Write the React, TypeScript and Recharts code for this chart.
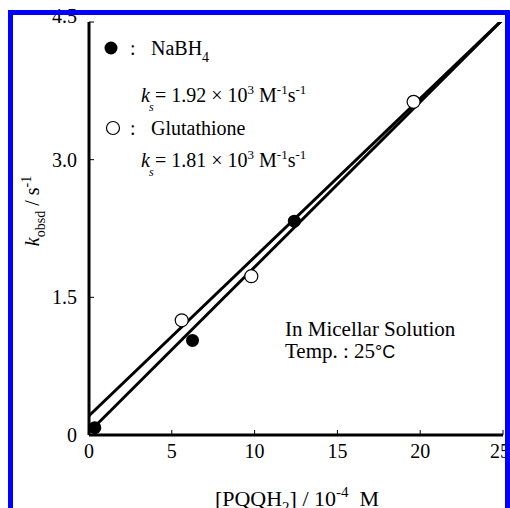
import { ComposedChart, Scatter, XAxis, YAxis } from "recharts";

// [PQQH2] / 10^-4 M  vs  k_obsd / s^-1
const nabh4Points = [
  { x: 0.35, y: 0.08 },
  { x: 6.25, y: 1.03 },
  { x: 12.4, y: 2.33 },
];

const glutathionePoints = [
  { x: 5.6, y: 1.25 },
  { x: 9.8, y: 1.73 },
  { x: 19.6, y: 3.63 },
];

// fitted lines at both ends
const nabh4Fit = [
  { x: 0, y: 0.03 },
  { x: 25, y: 4.53 },
];

const glutathioneFit = [
  { x: 0, y: 0.21 },
  { x: 25, y: 4.53 },
];

const xTicks = [0, 5, 10, 15, 20, 25];
const yTicks = [0, 1.5, 3.0, 4.5];
const yTickLabels = ["0", "1.5", "3.0", "4.5"];

const serif = "'Liberation Serif', 'Times New Roman', serif";
const tickStyle = { fontFamily: serif, fontSize: 20, fill: "#000" };
const axisStroke = { stroke: "#000", strokeWidth: 3 };
const tickStroke = { stroke: "#000", strokeWidth: 1 };

const FilledDot = (props: any) => (
  <circle cx={props.cx} cy={props.cy} r={6.5} fill="#000" />
);

const OpenDot = (props: any) => (
  <circle cx={props.cx} cy={props.cy} r={6.5} fill="#fff" stroke="#000" strokeWidth={1.2} />
);

const NoDot = () => <g />;

// the top label sits a bit higher in the original, right under the frame
const YTick = (props: any) => {
  const { x, y, payload } = props;
  const i = yTicks.indexOf(payload.value);
  const isTop = i === yTicks.length - 1;
  return (
    <text x={x} y={y} dy={isTop ? 1 : 7} textAnchor="end" fontFamily={serif} fontSize={20} fill="#000">
      {yTickLabels[i] ?? String(payload.value)}
    </text>
  );
};

const Annotations = () => (
  <svg
    width={510}
    height={508}
    style={{ position: "absolute", left: 0, top: 0, pointerEvents: "none" }}
    fontFamily={serif}
    fontSize={20}
    fill="#000"
  >
    {/* legend */}
    <circle cx={111} cy={48} r={6.5} fill="#000" />
    <text x={130} y={55}>:</text>
    <text x={151} y={55}>
      NaBH<tspan fontSize={14} dy={7}>4</tspan>
    </text>
    <text x={141} y={102} fontStyle="italic">k</text>
    <text x={149} y={111} fontStyle="italic" fontSize={12}>s</text>
    <text x={155} y={102}>
      = 1.92 × 10<tspan fontSize={13} dy={-8}>3</tspan>
      <tspan dy={8}> M</tspan>
      <tspan fontSize={13} dy={-8}>-1</tspan>
      <tspan dy={8}>s</tspan>
      <tspan fontSize={13} dy={-8}>-1</tspan>
    </text>

    <circle cx={113} cy={128} r={6.5} fill="#fff" stroke="#000" strokeWidth={1.2} />
    <text x={130} y={135}>:</text>
    <text x={151} y={135}>Glutathione</text>
    <text x={141} y={167} fontStyle="italic">k</text>
    <text x={149} y={176} fontStyle="italic" fontSize={12}>s</text>
    <text x={155} y={167}>
      = 1.81 × 10<tspan fontSize={13} dy={-8}>3</tspan>
      <tspan dy={8}> M</tspan>
      <tspan fontSize={13} dy={-8}>-1</tspan>
      <tspan dy={8}>s</tspan>
      <tspan fontSize={13} dy={-8}>-1</tspan>
    </text>

    <text x={285} y={336} fontSize={21}>In Micellar Solution</text>
    <text x={285} y={358} fontSize={21}>
      Temp. : 25
      <tspan fontFamily="'Liberation Sans', Arial, sans-serif" fontSize={18}>°C</tspan>
    </text>

    {/* axis titles */}
    <text x={297} y={506} textAnchor="middle" fontSize={22}>
      [PQQH<tspan fontSize={15} dy={6}>2</tspan>
      <tspan dy={-6}>] / 10</tspan>
      <tspan fontSize={15} dy={-9}>-4</tspan>
      <tspan dy={9}>{"\u00a0\u00a0"}M</tspan>
    </text>
    <text x={39} y={211} textAnchor="middle" fontSize={20} transform="rotate(-90 39 211)">
      <tspan fontStyle="italic">k</tspan>
      <tspan fontSize={14} dy={6}>obsd</tspan>
      <tspan dy={-6}> / s</tspan>
      <tspan fontSize={14} dy={-8}>-1</tspan>
    </text>
  </svg>
);

export default function App() {
  return (
    <div style={{ position: "absolute", left: 0, top: 0, width: 510, height: 508, background: "#fff", overflow: "hidden" }}>
      <ComposedChart
        width={510}
        height={508}
        margin={{ top: 22, right: 7, bottom: 43, left: 29 }}
      >
        <XAxis
          xAxisId="bottom"
          type="number"
          dataKey="x"
          domain={[0, 25]}
          ticks={xTicks}
          allowDataOverflow
          height={30}
          tickSize={-5}
          tickMargin={14}
          tick={tickStyle}
          axisLine={axisStroke}
          tickLine={tickStroke}
        />
        <XAxis
          xAxisId="top"
          orientation="top"
          type="number"
          dataKey="x"
          domain={[0, 25]}
          ticks={xTicks}
          allowDataOverflow
          height={0}
          tickSize={-5}
          tick={false}
          axisLine={axisStroke}
          tickLine={tickStroke}
        />
        <YAxis
          yAxisId="left"
          type="number"
          dataKey="y"
          domain={[0, 4.5]}
          ticks={yTicks}
          allowDataOverflow
          width={60}
          tickSize={-5}
          tickMargin={17}
          tick={<YTick />}
          axisLine={axisStroke}
          tickLine={tickStroke}
        />
        <YAxis
          yAxisId="right"
          orientation="right"
          type="number"
          dataKey="y"
          domain={[0, 4.5]}
          ticks={yTicks}
          allowDataOverflow
          width={0}
          tickSize={-5}
          tick={false}
          axisLine={axisStroke}
          tickLine={tickStroke}
        />
        <Scatter
          xAxisId="bottom"
          yAxisId="left"
          data={glutathioneFit}
          line={{ stroke: "#000", strokeWidth: 3 }}
          shape={NoDot}
          isAnimationActive={false}
        />
        <Scatter
          xAxisId="bottom"
          yAxisId="left"
          data={nabh4Fit}
          line={{ stroke: "#000", strokeWidth: 3 }}
          shape={NoDot}
          isAnimationActive={false}
        />
        <Scatter
          xAxisId="bottom"
          yAxisId="left"
          data={nabh4Points}
          shape={FilledDot}
          isAnimationActive={false}
        />
        <Scatter
          xAxisId="bottom"
          yAxisId="left"
          data={glutathionePoints}
          shape={OpenDot}
          isAnimationActive={false}
        />
      </ComposedChart>
      <Annotations />
      <div
        style={{
          position: "absolute",
          left: 8,
          top: 10,
          width: 502,
          height: 510,
          border: "5px solid #0000ff",
          boxSizing: "border-box",
          pointerEvents: "none",
        }}
      />
    </div>
  );
}
